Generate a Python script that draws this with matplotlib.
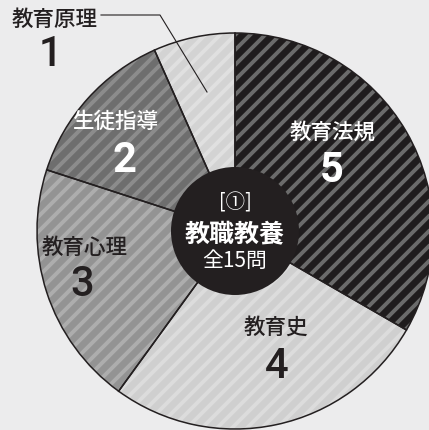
import numpy as np
import matplotlib.pyplot as plt
import matplotlib.patches as mpatches

plt.rcParams['font.family'] = ['Noto Sans CJK JP', 'DejaVu Sans']

# data
labels = ['教育法規', '教育史', '教育心理', '生徒指導', '教育原理']
counts = [5, 4, 3, 2, 1]
base_colors = ['#1f1c1d', '#cfcfcf', '#939393', '#6e6e6e', '#d3d3d3']
stripe_colors = ['#6b6b6b', '#dcdcdc', '#adadad', '#8c8c8c', '#e0e0e0']
text_colors = ['white', '#231f20', '#231f20', 'white', '#231f20']
num_weights = ['bold', 'medium', 'medium', 'bold', 'medium']
# label positions in pixels (x, y from top): name, number
name_pos = [(333, 133), (276, 328), (85, 248), (115, 122), (55, 20)]
num_pos = [(332, 170), (277, 367), (82, 284), (124, 160), (50, 55)]

W, H = 429, 430
fig = plt.figure(figsize=(W / 100, H / 100), dpi=100, facecolor='#ececed')
ax = fig.add_axes([0, 0, 1, 1])

cx, cy, R = 235, H - 231, 198

# base fill
wedges, _ = ax.pie(counts, colors=base_colors, startangle=90, counterclock=False,
                   center=(cx, cy), radius=R, frame=True,
                   wedgeprops=dict(linewidth=0))

# diagonal stripes clipped to each wedge
period = 15
for w, c in zip(wedges, stripe_colors):
    for off in np.arange(-H - 20, W + 20, period):
        ln, = ax.plot([off, off + H + 40], [-20, H + 20], color=c, lw=2.8,
                      solid_capstyle='butt', zorder=2)
        ln.set_clip_path(w)

# outlines
ax.pie(counts, colors=['none'] * 5, startangle=90, counterclock=False,
       center=(cx, cy), radius=R, frame=True,
       wedgeprops=dict(linewidth=1.1, edgecolor='#231f20', zorder=3))
ax.set_xlim(0, W)
ax.set_ylim(0, H)
ax.set_aspect('equal')
ax.axis('off')

for i in range(len(labels)):
    nx, ny = name_pos[i]
    ax.text(nx, H - ny, labels[i], ha='center', va='center', fontsize=15.5,
            color=text_colors[i], fontweight='medium', zorder=4)
    mx, my = num_pos[i]
    ax.text(mx, H - my, str(counts[i]), ha='center', va='center', fontsize=30,
            color=text_colors[i], fontweight=num_weights[i],
            family=['Roboto', 'DejaVu Sans'], zorder=4)

# leader line for 教育原理
ax.plot([101, 160, 207], [H - 15, H - 15, H - 92], color='#231f20', lw=0.8, zorder=4)

# centre disc
ax.add_patch(mpatches.Circle((cx, cy), 64, facecolor='#231f20', edgecolor='none', zorder=5))
ax.text(cx, H - 203, '[①]', ha='center', va='center', fontsize=14, color='white', zorder=6)
ax.text(cx, H - 234, '教職教養', ha='center', va='center', fontsize=18,
        color='white', fontweight='bold', zorder=6)
ax.text(cx, H - 261, '全15問', ha='center', va='center', fontsize=15, color='white', zorder=6)

fig.savefig('out.png', dpi=100, facecolor=fig.get_facecolor())
